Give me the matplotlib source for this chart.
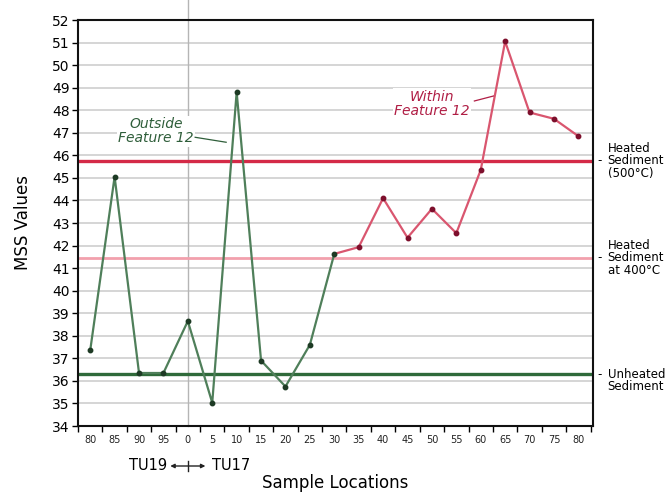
import matplotlib
matplotlib.use("Agg")
import matplotlib.pyplot as plt
import matplotlib.transforms as mtransforms

plt.rcParams['font.family'] = ['DejaVu Sans']

x_labels = ['80', '85', '90', '95', '0', '5', '10', '15', '20', '25', '30',
            '35', '40', '45', '50', '55', '60', '65', '70', '75', '80']
outside_vals = [37.35, 45.05, 36.35, 36.35, 38.65, 35.03, 48.8, 36.9, 35.75, 37.6, 41.63]
within_vals = [41.63, 41.93, 44.1, 42.35, 43.63, 42.55, 45.35, 51.05, 47.9, 47.62, 46.85]
ref_levels = [45.75, 41.45, 36.3]
ref_names = [['Heated', 'Sediment', '(500°C)'], ['Heated', 'Sediment', 'at 400°C'], ['Unheated', 'Sediment']]
ref_label_anchor = [1, 1, 0]   # which line of the label sits at the reference level
y_ticks = list(range(34, 53))

green_line = '#4f7f5a'
green_dot = '#1d3a24'
red_line = '#d9566f'
red_dot = '#7d0f2c'
ref_colors = ['#d42a47', '#f2a0ad', '#2f6a3a']
ref_widths = [2.4, 2.0, 2.4]

fig = plt.figure(figsize=(6.67, 4.96), dpi=100)
ax = fig.add_axes([78/667, 1-426/496, (593-78)/667, (426-20)/496])

n = len(x_labels)
xs = list(range(n))
ax.set_xlim(-0.5, n - 0.4)
ax.set_ylim(34, 52)

for y in y_ticks:
    ax.axhline(y, color='#d2d2d2', lw=1.3, zorder=1)

ax.axvline(4, ymin=0, ymax=1 + 20/406, color='#b5b5b5', lw=1.0, zorder=1, clip_on=False)

for lvl, c, w in zip(ref_levels, ref_colors, ref_widths):
    ax.axhline(lvl, color=c, lw=w, zorder=2)

xo = xs[:len(outside_vals)]
xw = xs[len(outside_vals)-1:len(outside_vals)-1+len(within_vals)]
ax.plot(xw, within_vals, color=red_line, lw=1.6, zorder=3)
ax.plot(xw[1:], within_vals[1:], 'o', color=red_dot, ms=3.2, zorder=4)
ax.plot(xo, outside_vals, color=green_line, lw=1.6, zorder=3)
ax.plot(xo, outside_vals, 'o', color=green_dot, ms=3.2, zorder=4)

ax.set_yticks(y_ticks)
ax.tick_params(axis='y', labelsize=10, length=4, width=1, direction='out', pad=2)
ax.set_xticks([i + 0.5 for i in range(-1, n)])
ax.set_xticklabels([])
ax.tick_params(axis='x', length=4, width=1, direction='out')
bt = mtransforms.blended_transform_factory(ax.transData, ax.transAxes)
for i, lab in enumerate(x_labels):
    ax.text(i, -0.035, lab, transform=bt, ha='center', va='center', fontsize=7, color='#222222')

for s in ax.spines.values():
    s.set_linewidth(1.5)
    s.set_color('#111111')

ax.set_ylabel('MSS Values', fontsize=12, labelpad=6)
ax.yaxis.set_label_coords(-0.09, 0.5)
fig.text(335/667, 1-483/496, 'Sample Locations', ha='center', va='center', fontsize=12)

# TU19 <-+-> TU17
ty = (426 - 466) / 406
ax.text(3.15, ty, 'TU19', transform=bt, ha='right', va='center', fontsize=10.5, clip_on=False)
ax.text(5.0, ty, 'TU17', transform=bt, ha='left', va='center', fontsize=10.5, clip_on=False)
ax.annotate('', xy=(4.72, ty), xytext=(3.28, ty), xycoords=bt, textcoords=bt,
            arrowprops=dict(arrowstyle='<|-|>', lw=1.0, color='#222222', mutation_scale=6,
                            shrinkA=0, shrinkB=0), annotation_clip=False)
ax.plot([4, 4], [ty - 0.013, ty + 0.013], transform=bt, color='#222222', lw=1.0, clip_on=False)

# Right labels
rt = mtransforms.blended_transform_factory(ax.transAxes, ax.transData)
for lvl, names, anc in zip(ref_levels, ref_names, ref_label_anchor):
    ax.annotate('-', xy=(1, lvl), xycoords=rt, xytext=(4.5, 0), textcoords='offset points',
                ha='center', va='center', fontsize=8.5, annotation_clip=False)
    for k, nm in enumerate(names):
        ax.annotate(nm, xy=(1, lvl), xycoords=rt, xytext=(10.5, -(k - anc) * 8.8),
                    textcoords='offset points', ha='left', va='center', fontsize=8.5,
                    annotation_clip=False)

# Inline annotations
ax.text(2.7, 47.07, 'Outside\nFeature 12', ha='center', va='center', fontsize=10,
        style='italic', color='#2f5e3a', linespacing=1.05, zorder=5,
        bbox=dict(facecolor='white', edgecolor='none', pad=1))
ax.plot([4.3, 5.57], [46.8, 46.58], color='#2f5e3a', lw=0.9, zorder=5)
ax.text(14.0, 48.28, 'Within\nFeature 12', ha='center', va='center', fontsize=10,
        style='italic', color='#b01e45', linespacing=1.05, zorder=5,
        bbox=dict(facecolor='white', edgecolor='none', pad=1))
ax.plot([15.74, 16.52], [48.41, 48.63], color='#b01e45', lw=0.9, zorder=5)

fig.savefig('out.png', dpi=100)
